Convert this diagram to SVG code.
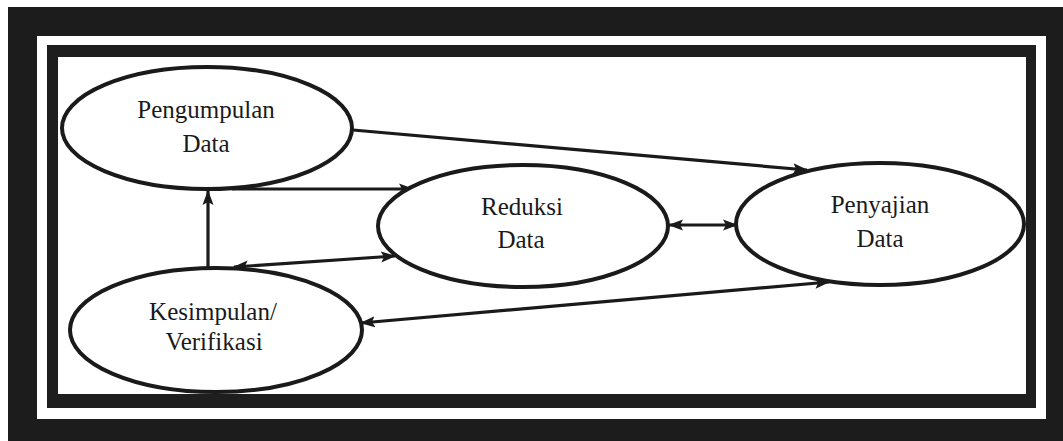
<svg xmlns="http://www.w3.org/2000/svg" width="1063" height="441" viewBox="0 0 1063 441">
<defs>
<style>
.node ellipse{fill:#ffffff;stroke:#1a1a1a;stroke-width:4}
.lbl{font-family:"Liberation Serif","Times New Roman",serif;font-size:25px;fill:#1a1a1a;text-anchor:middle}
.conn line{stroke:#1a1a1a;stroke-width:3.2;fill:none}
</style>
<marker id="ah" markerUnits="userSpaceOnUse" markerWidth="16" markerHeight="12" refX="14" refY="6" orient="auto-start-reverse" viewBox="0 0 16 12">
<path d="M0,0.5 L15,6 L0,11.5 L3,6 Z" fill="#1a1a1a"/>
</marker>
</defs>
<rect x="0" y="0" width="1063" height="441" fill="#ffffff"/>
<g id="frame">
<rect x="8" y="7" width="1055" height="434" fill="#1c1c1c"/>
<rect x="37" y="36" width="1009" height="383" fill="#ffffff"/>
<rect x="47" y="45" width="989" height="363" fill="#1e1e1e"/>
<rect x="58" y="57" width="968" height="337" fill="#ffffff"/>
</g>
<g id="connectors" class="conn">
<line x1="353" y1="130" x2="807" y2="170" marker-end="url(#ah)"/>
<line x1="232" y1="189" x2="413" y2="189" marker-end="url(#ah)"/>
<line x1="208" y1="268" x2="208" y2="191" marker-end="url(#ah)"/>
<line x1="234" y1="267" x2="395" y2="256" marker-start="url(#ah)" marker-end="url(#ah)"/>
<line x1="669" y1="225" x2="737" y2="225" marker-start="url(#ah)" marker-end="url(#ah)"/>
<line x1="361" y1="323" x2="829" y2="282" marker-start="url(#ah)" marker-end="url(#ah)"/>
</g>
<g id="pengumpulan" class="node">
<ellipse cx="207" cy="128" rx="145" ry="61"/>
<text class="lbl" x="206" y="118">Pengumpulan</text>
<text class="lbl" x="206" y="152">Data</text>
</g>
<g id="reduksi" class="node">
<ellipse cx="523" cy="226" rx="145" ry="61"/>
<text class="lbl" x="522" y="215">Reduksi</text>
<text class="lbl" x="521" y="248">Data</text>
</g>
<g id="penyajian" class="node">
<ellipse cx="880" cy="224" rx="144" ry="61"/>
<text class="lbl" x="880" y="213">Penyajian</text>
<text class="lbl" x="880" y="247">Data</text>
</g>
<g id="kesimpulan" class="node">
<ellipse cx="216" cy="330" rx="146" ry="62"/>
<text class="lbl" x="213" y="320">Kesimpulan/</text>
<text class="lbl" x="214" y="350">Verifikasi</text>
</g>
</svg>
